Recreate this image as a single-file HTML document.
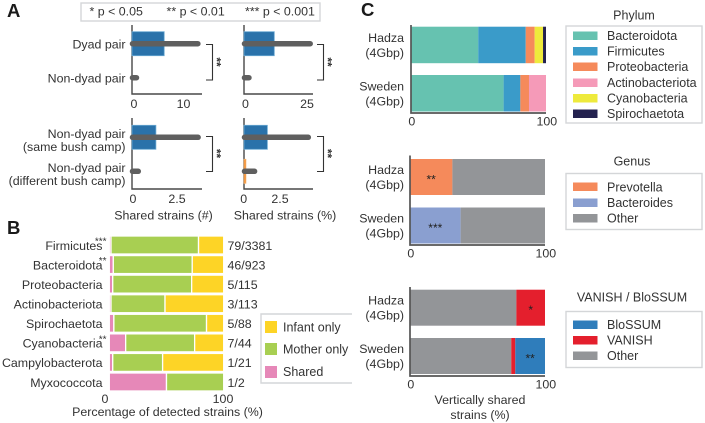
<!DOCTYPE html>
<html lang="en">
<head>
<meta charset="utf-8">
<title>Shared strains figure</title>
<style>
html,body{margin:0;padding:0;background:#fff;}
svg{display:block;font-family:"Liberation Sans",Arial,sans-serif;fill:#333;}
text{font-size:12px;}
.lbl{font-size:12.4px;}
.leg{font-size:12.5px;}
.letter{font-size:18.5px;font-weight:bold;fill:#1a1a1a;}
.box{fill:#fff;stroke:#d4d6d8;stroke-width:1.4;}
.ax{stroke:#484848;stroke-width:1.4;fill:none;}
.axc{stroke:#555;stroke-width:1.7;fill:none;}
.br{stroke:#333;stroke-width:1.1;fill:none;}
</style>
</head>
<body>
<svg id="figure" width="705" height="423" viewBox="0 0 705 423" xmlns="http://www.w3.org/2000/svg">
<rect width="705" height="423" style="fill:#fff"/>

<text class="letter" x="7" y="17">A</text>
<text class="letter" x="7" y="234">B</text>
<text class="letter" x="361" y="16">C</text>

<g>
<rect class="box" x="81" y="3" width="239" height="18"/>
<text class="lbl" x="89.5" y="15.5">* p &lt; 0.05</text>
<text class="lbl" x="166.5" y="15.5">** p &lt; 0.01</text>
<text class="lbl" x="245" y="15.5">*** p &lt; 0.001</text>
</g>

<g id="panelA"></g>

<g>
<path class="br" d="M206 44.5H212.5V80H206"/>
<path class="br" d="M317 44.5H323.5V80H317"/>
<path class="br" d="M206 136.5H212.5V171.5H206"/>
<path class="br" d="M317 136.5H323.5V171.5H317"/>
<text transform="translate(219,62) rotate(90)" text-anchor="middle" y="6.5" style="font-size:12px;font-weight:bold">**</text>
<text transform="translate(330,62) rotate(90)" text-anchor="middle" y="6.5" style="font-size:12px;font-weight:bold">**</text>
<text transform="translate(219,153.5) rotate(90)" text-anchor="middle" y="6.5" style="font-size:12px;font-weight:bold">**</text>
<text transform="translate(330,153.5) rotate(90)" text-anchor="middle" y="6.5" style="font-size:12px;font-weight:bold">**</text>
</g>

<text class="lbl" x="163.5" y="219.5" text-anchor="middle">Shared strains (#)</text>
<text class="lbl" x="285" y="219.5" text-anchor="middle">Shared strains (%)</text>

<g id="panelB"></g>
<text class="lbl" x="167.5" y="416" text-anchor="middle">Percentage of detected strains (%)</text>

<g>
<path class="box" d="M352 314H261V383H352" style="fill:#fff"/>
<rect x="265" y="321" width="12" height="12" style="fill:#fdd426"/>
<text class="leg" x="283" y="331.5">Infant only</text>
<rect x="265" y="343" width="12" height="12" style="fill:#a8cf52"/>
<text class="leg" x="283" y="353.5">Mother only</text>
<rect x="265" y="366" width="12" height="12" style="fill:#e688b8"/>
<text class="leg" x="283" y="376">Shared</text>
</g>

<g id="panelC"></g>

<text class="lbl" x="480" y="404" text-anchor="middle">Vertically shared</text>
<text class="lbl" x="480" y="419" text-anchor="middle">strains (%)</text>

<g>
<text class="leg" x="634" y="19.5" text-anchor="middle">Phylum</text>
<rect class="box" x="566" y="26" width="136" height="97"/>
<rect x="573" y="31.5" width="24.5" height="8.5" style="fill:#66c2b0"/>
<text class="leg" x="607" y="40">Bacteroidota</text>
<rect x="573" y="47" width="24.5" height="8.5" style="fill:#3a9bc9"/>
<text class="leg" x="607" y="55.5">Firmicutes</text>
<rect x="573" y="62.5" width="24.5" height="8.5" style="fill:#f58a5b"/>
<text class="leg" x="607" y="71">Proteobacteria</text>
<rect x="573" y="78.5" width="24.5" height="8.5" style="fill:#f59ab8"/>
<text class="leg" x="607" y="87">Actinobacteriota</text>
<rect x="573" y="94" width="24.5" height="8.5" style="fill:#eeea3c"/>
<text class="leg" x="607" y="102.5">Cyanobacteria</text>
<rect x="573" y="109.5" width="24.5" height="8.5" style="fill:#24224f"/>
<text class="leg" x="607" y="118">Spirochaetota</text>
</g>

<g>
<text class="leg" x="632" y="165.5" text-anchor="middle">Genus</text>
<rect class="box" x="566" y="173.5" width="136" height="56"/>
<rect x="573" y="182.5" width="24.5" height="8.5" style="fill:#f58a5b"/>
<text class="leg" x="607" y="191.5">Prevotella</text>
<rect x="573" y="198.5" width="24.5" height="8.5" style="fill:#8a9fd0"/>
<text class="leg" x="607" y="207">Bacteroides</text>
<rect x="573" y="214" width="24.5" height="8.5" style="fill:#939598"/>
<text class="leg" x="607" y="222.5">Other</text>
</g>

<g>
<text class="leg" x="632" y="301.5" text-anchor="middle">VANISH / BloSSUM</text>
<rect class="box" x="566" y="311.5" width="136" height="56"/>
<rect x="573" y="320.5" width="24.5" height="8.5" style="fill:#2f7dbb"/>
<text class="leg" x="607" y="329">BloSSUM</text>
<rect x="573" y="336" width="24.5" height="8.5" style="fill:#e41f2d"/>
<text class="leg" x="607" y="344.5">VANISH</text>
<rect x="573" y="351.5" width="24.5" height="8.5" style="fill:#939598"/>
<text class="leg" x="607" y="360">Other</text>
</g>
</svg>

<script>
/* ---------- Panel A data ---------- */
const dyadCategories = ["Dyad pair", "Non-dyad pair"];
const campCategoriesLine1 = ["Non-dyad pair", "Non-dyad pair"];
const campCategoriesLine2 = ["(same bush camp)", "(different bush camp)"];
const dyadCountMeans = [6.1, 0];
const dyadCountUpper = [12.9, 0.5];
const dyadPercentMeans = [11.7, 0];
const dyadPercentUpper = [26.3, 1.4];
const campCountMeans = [1.3, 0];
const campCountUpper = [3.7, 0.3];
const campPercentMeans = [1.63, 0.15];
const campPercentUpper = [4.45, 0.75];
const countTicksTop = [0, 10];
const percentTicksTop = [0, 25];
const lowerTicks = [0, 2.5];

/* ---------- Panel B data ---------- */
const phylumNames = ["Firmicutes", "Bacteroidota", "Proteobacteria", "Actinobacteriota", "Spirochaetota", "Cyanobacteria", "Campylobacterota", "Myxococcota"];
const sharedPct = [1.5, 3.5, 3, 1.5, 4, 14.3, 3, 50];
const motherPct = [76.5, 69, 69, 47.2, 81, 60.3, 43.6, 50];
const infantPct = [22, 27.5, 28, 51.3, 15, 25.4, 53.4, 0];
const strainCounts = ["79/3381", "46/923", "5/115", "3/113", "5/88", "7/44", "1/21", "1/2"];
const phylumStars = ["***", "**", "", "", "", "**", "", ""];
const bTicks = [0, 100];

/* ---------- Panel C data ---------- */
const cohorts = ["Hadza", "Sweden"];
const cTicks = [0, 100];
const phylumBacteroidota = [49.8, 68.6];
const phylumFirmicutes = [35.2, 12.4];
const phylumProteobacteria = [6.6, 6.4];
const phylumActinobacteriota = [0, 12.6];
const phylumCyanobacteria = [6.2, 0];
const phylumSpirochaetota = [2.2, 0];
const genusPrevotella = [31.4, 0];
const genusBacteroides = [0, 37.5];
const genusOther = [68.6, 62.5];
const vanishOther = [78.8, 75];
const vanishVanish = [21.2, 3];
const vanishBlossum = [0, 22];
const genusStarsPrevotella = ["**", ""];
const genusStarsBacteroides = ["", "***"];
const vanishStarsVanish = ["*", ""];
const vanishStarsBlossum = ["", "**"];

const NS = "http://www.w3.org/2000/svg";
function mk(tag, attrs, parent, txt) {
  const el = document.createElementNS(NS, tag);
  for (const k in attrs) el.setAttribute(k, attrs[k]);
  if (txt !== undefined) el.textContent = txt;
  parent.appendChild(el);
  return el;
}
function linear(d0, d1, r0, r1) {
  return v => r0 + (v - d0) / (d1 - d0) * (r1 - r0);
}

/* Panel A small multiples */
function drawPanelA(root, cfg) {
  const x = linear(0, cfg.tick, cfg.x0, cfg.tickX);
  const axis = mk("path", {class: "ax", d: "M" + cfg.axisX + " " + cfg.top + "V" + cfg.bottom + "H" + cfg.axisEnd}, root);
  
  
  cfg.means.forEach((m, i) => {
    const cy = cfg.rows[i];
    if (m > 0) {
      const bar = mk("rect", {x: cfg.axisX, y: cy - 12, width: Math.max(0, x(m) - cfg.axisX), height: 24,
        style: "fill:" + (i === 0 ? "#2a72aa" : "#f08a2c") + ";stroke:" + (i === 0 ? "#6aa9d2" : "#f5b06a") + ";stroke-width:.8"}, root);
      
      
    }
    const err = mk("line", {x1: cfg.axisX + 0.5, x2: x(cfg.upper[i]), y1: cy, y2: cy,
      style: "stroke:#5f5f5f;stroke-width:5.5;stroke-linecap:round"}, root);
    
    
  });
  cfg.ticks.forEach(t => {
    const lab = mk("text", {class: "lbl", x: x(t), y: cfg.bottom + 14, "text-anchor": "middle"}, root, String(t));
    
    
  });
}
const panelA = document.getElementById("panelA");
drawPanelA(panelA, {name: "dyad-count", means: dyadCountMeans, upper: dyadCountUpper, ticks: countTicksTop, tick: 10, x0: 134, tickX: 183.5, axisX: 132, axisEnd: 202, top: 25, bottom: 94, rows: [43.7, 77.7]});
drawPanelA(panelA, {name: "dyad-percent", means: dyadPercentMeans, upper: dyadPercentUpper, ticks: percentTicksTop, tick: 25, x0: 245.5, tickX: 307, axisX: 244, axisEnd: 313, top: 25, bottom: 94, rows: [43.7, 77.7]});
drawPanelA(panelA, {name: "camp-count", means: campCountMeans, upper: campCountUpper, ticks: lowerTicks, tick: 2.5, x0: 133, tickX: 177, axisX: 132, axisEnd: 202, top: 118, bottom: 189, rows: [137.3, 171.3]});
drawPanelA(panelA, {name: "camp-percent", means: campPercentMeans, upper: campPercentUpper, ticks: lowerTicks, tick: 2.5, x0: 243.7, tickX: 280, axisX: 244, axisEnd: 313, top: 118, bottom: 189, rows: [137.3, 171.3]});

dyadCategories.forEach((c, i) => {
  const t = mk("text", {class: "lbl", x: 125.5, y: [48.3, 82.3][i], "text-anchor": "end"}, panelA, c);
  
  
});
campCategoriesLine1.forEach((c, i) => {
  const base = 138 + i * 34;
  const a = mk("text", {class: "lbl", x: 125.5, y: base, "text-anchor": "end"}, panelA, c);
  
  
  const b = mk("text", {class: "lbl", x: 125.5, y: base + 13, "text-anchor": "end"}, panelA, campCategoriesLine2[i]);
  
  
});

/* Panel B */
const panelB = document.getElementById("panelB");
const bx = linear(0, 100, 109.3, 223.7);
const bRowY = i => 245 + i * 19.57;
phylumNames.forEach((name, i) => {
  const segs = [[sharedPct[i], "#e688b8"], [motherPct[i], "#a8cf52"], [infantPct[i], "#fdd426"]];
  let acc = 0;
  segs.forEach(s => {
    if (s[0] > 0) {
      const r = mk("rect", {x: bx(acc), y: bRowY(i) - 9, width: bx(acc + s[0]) - bx(acc), height: 18,
        style: "fill:" + s[1] + ";stroke:#fff;stroke-width:1.3"}, panelB);
      
      
    }
    acc += s[0];
  });
  const lab = mk("text", {class: "lbl", x: 102.5, y: bRowY(i) + 4.8, "text-anchor": "end"}, panelB, name);
  
  
  const cnt = mk("text", {class: "lbl", x: 227.5, y: bRowY(i) + 4.8}, panelB, strainCounts[i]);
  
  
  if (phylumStars[i]) {
    const st = mk("text", {x: 106.5, y: bRowY(i) - 0.5, "text-anchor": "end", style: "font-size:10px"}, panelB, phylumStars[i]);
    
    
  }
});
bTicks.forEach(t => {
  const lab = mk("text", {class: "lbl", x: bx(t) - (t === 0 ? 4.3 : 0.7), y: 403, "text-anchor": "middle"}, panelB, String(t));
  
  
});

/* Panel C */
const panelC = document.getElementById("panelC");
function drawStacked(cfg) {
  const x = linear(0, 100, cfg.x0, cfg.x1);
  cohorts.forEach((cohort, i) => {
    const y = cfg.rows[i];
    let acc = 0;
    cfg.series.forEach(s => {
      const v = s.values[i];
      if (v > 0) {
        const r = mk("rect", {x: x(acc), y: y, width: x(acc + v) - x(acc), height: cfg.h, style: "fill:" + s.color}, panelC);
        
        
        if (s.stars && s.stars[i]) {
          const st = mk("text", {x: x(acc + v / 2), y: y + cfg.h / 2 + 6.5, "text-anchor": "middle", style: "font-size:12px;fill:#222"}, panelC, s.stars[i]);
          
          
        }
      }
      acc += v;
    });
    const a = mk("text", {class: "lbl", x: 404, y: y + cfg.h / 2 - 3, "text-anchor": "end"}, panelC, cohort);
    
    
    const b = mk("text", {class: "lbl", x: 404, y: y + cfg.h / 2 + 12, "text-anchor": "end"}, panelC, "(4Gbp)");
    
    
  });
  const ax = mk("path", {class: "axc", d: "M" + cfg.x0 + " " + cfg.top + "V" + cfg.bottom + "H" + cfg.x1}, panelC);
  
  
  cTicks.forEach(t => {
    const lab = mk("text", {class: "lbl", x: x(t) + 0.8, y: cfg.bottom + 12.5, "text-anchor": "middle"}, panelC, String(t));
    
    
  });
}
drawStacked({name: "phylum", x0: 411, x1: 546, rows: [26.7, 75], h: 36.5, top: 25, bottom: 113, series: [
  {values: phylumBacteroidota, color: "#66c2b0"},
  {values: phylumFirmicutes, color: "#3a9bc9"},
  {values: phylumProteobacteria, color: "#f58a5b"},
  {values: phylumActinobacteriota, color: "#f59ab8"},
  {values: phylumCyanobacteria, color: "#eeea3c"},
  {values: phylumSpirochaetota, color: "#24224f"}
]});
drawStacked({name: "genus", x0: 410, x1: 545, rows: [159, 207.5], h: 36, top: 155.5, bottom: 245, series: [
  {values: genusPrevotella, color: "#f58a5b", stars: genusStarsPrevotella},
  {values: genusBacteroides, color: "#8a9fd0", stars: genusStarsBacteroides},
  {values: genusOther, color: "#939598"}
]});
drawStacked({name: "vanish-blossum", x0: 410, x1: 545, rows: [289.7, 338], h: 36, top: 287, bottom: 376, series: [
  {values: vanishOther, color: "#939598"},
  {values: vanishVanish, color: "#e41f2d", stars: vanishStarsVanish},
  {values: vanishBlossum, color: "#2f7dbb", stars: vanishStarsBlossum}
]});
</script>
</body>
</html>
